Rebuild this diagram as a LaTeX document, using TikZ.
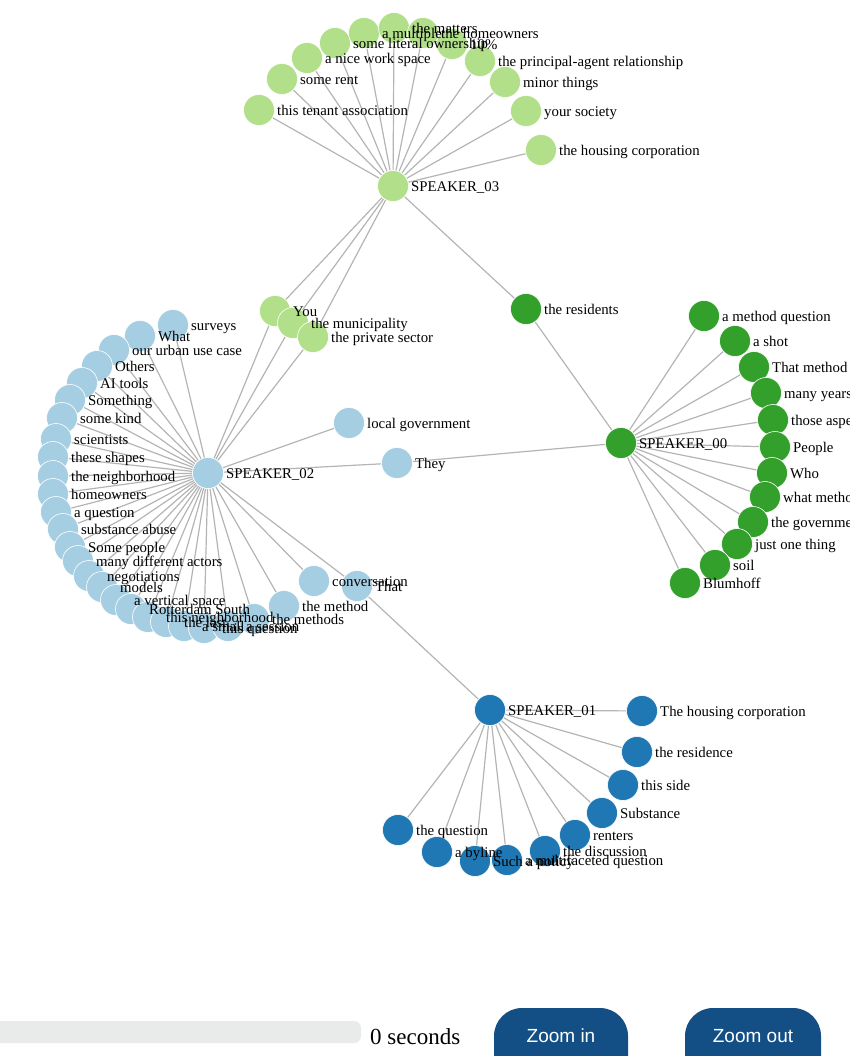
\documentclass[tikz,border=0pt]{standalone}
\usepackage{fontspec}
\setmainfont{Liberation Serif}
\newfontfamily\uifont{Liberation Sans}
\definecolor{lgreen}{HTML}{B2DF8A}
\definecolor{dgreen}{HTML}{33A02C}
\definecolor{lblue}{HTML}{A6CEE3}
\definecolor{dblue}{HTML}{1F78B4}
\definecolor{linkgray}{HTML}{B4B4B4}
\definecolor{btnblue}{HTML}{134F85}
\definecolor{barfill}{HTML}{E9EAEA}
\pgfdeclarelayer{edges}
\pgfdeclarelayer{texts}
\pgfsetlayers{edges,main,texts}
\tikzset{
  entity/.style={
    shape = circle,
    inner sep = 0pt,
    minimum size = 31pt,
    draw = white,
    line width = 0.6pt
  },
  link/.style={
    draw = linkgray,
    line width = 1.2pt
  },
  tag/.style={
    anchor = base west,
    inner sep = 0pt,
    font = \fontsize{14.8}{16}\selectfont
  },
  every picture/.style = {
    x = 1pt,
    y = -1pt
  }
}

\begin{document}
\begin{tikzpicture}
            \useasboundingbox (0,0) rectangle (850,1056);
            % speakers
            \node[entity, fill=lgreen] (s3) at (393,186) {};
            \node[entity, fill=lblue] (s2) at (208,473) {};
            \node[entity, fill=dgreen] (s0) at (621,443) {};
            \node[entity, fill=dblue] (s1) at (490,710) {};
            \begin{pgfonlayer}{texts}
                \node[tag] (s3-t) at (411,191.5) {SPEAKER\_03};
                \node[tag] (s2-t) at (226,478.5) {SPEAKER\_02};
                \node[tag] (s0-t) at (639,448.5) {SPEAKER\_00};
                \node[tag] (s1-t) at (508,715.5) {SPEAKER\_01};
            \end{pgfonlayer}
            % shared nodes
            \foreach \n/\x/\y/\c/\t in {y1/275/311/lgreen/You, y2/293/323/lgreen/the municipality, y3/313/337/lgreen/the private sector, r1/526/309/dgreen/the residents, they/397/463/lblue/They, that/357/586/lblue/That}{
                    \node[entity, fill=\c] (\n) at (\x,\y) {};
                    \begin{pgfonlayer}{texts}
                        \node[tag] (\n-t) at (\x+18,\y+5.5) {\t};
                    \end{pgfonlayer}
                }
            \begin{pgfonlayer}{edges}
                \foreach \n in {y1,y2,y3}{
                        \draw[link] (s3) -- (\n);
                        \draw[link] (s2) -- (\n);
                    }
                \draw[link] (s3) -- (r1) -- (s0);
                \draw[link] (s2) -- (they) -- (s0);
                \draw[link] (s2) -- (that) -- (s1);
            \end{pgfonlayer}
            % SPEAKER_03
            \foreach \n/\x/\y/\t in {g1/259/110/this tenant association, g2/282/79/some rent, g3/307/58/a nice work space, g4/335/43/some literal ownership, g5/364/33/a multiple, g6/394/28/the matters, g7/423/33/the homeowners, g8/452/44/10\%, g9/480/61/the principal-agent relationship, g10/505/82/minor things, g11/526/111/your society, g12/541/150/the housing corporation}{
                    \node[entity, fill=lgreen] (\n) at (\x,\y) {};
                    \begin{pgfonlayer}{texts}
                        \node[tag] (\n-t) at (\x+18,\y+5.5) {\t};
                    \end{pgfonlayer}
                    \begin{pgfonlayer}{edges}
                        \draw[link] (s3) -- (\n);
                    \end{pgfonlayer}
                }
            % SPEAKER_02
            \foreach \n/\x/\y/\t in {b1/173/325/surveys, b2/140/336/What, b3/114/350/our urban use case, b4/97/366/Others, b5/82/383/AI tools, b6/70/400/Something, b7/62/418/some kind, b8/56/439/scientists, b9/53/457/these shapes, b10/53/476/the neighborhood, b11/53/494/homeowners, b12/56/512/a question, b13/63/529/substance abuse, b14/70/547/Some people, b15/78/561/many different actors, b16/89/576/negotiations, b17/102/587/models, b18/116/600/a vertical space, b19/131/609/Rotterdam South, b20/148/617/this neighborhood, b21/166/622/the last, b22/184/626/a small, b23/204/628/this question, b28/228/626/a session, b24/254/619/the methods, b25/284/606/the method, b26/314/581/conversation, b27/349/423/local government}{
                    \node[entity, fill=lblue] (\n) at (\x,\y) {};
                    \begin{pgfonlayer}{texts}
                        \node[tag] (\n-t) at (\x+18,\y+5.5) {\t};
                    \end{pgfonlayer}
                    \begin{pgfonlayer}{edges}
                        \draw[link] (s2) -- (\n);
                    \end{pgfonlayer}
                }
            % SPEAKER_00
            \foreach \n/\x/\y/\t in {d1/704/316/a method question, d2/735/341/a shot, d3/754/367/That method, d4/766/393/many years, d5/773/420/those aspects, d6/775/447/People, d7/772/473/Who, d8/765/497/what method, d9/753/522/the government, d10/737/544/just one thing, d11/715/565/soil, d12/685/583/Blumhoff}{
                    \node[entity, fill=dgreen] (\n) at (\x,\y) {};
                    \begin{pgfonlayer}{texts}
                        \node[tag] (\n-t) at (\x+18,\y+5.5) {\t};
                    \end{pgfonlayer}
                    \begin{pgfonlayer}{edges}
                        \draw[link] (s0) -- (\n);
                    \end{pgfonlayer}
                }
            % SPEAKER_01
            \foreach \n/\x/\y/\t in {u1/642/711/The housing corporation, u2/637/752/the residence, u3/623/785/this side, u4/602/813/Substance, u5/575/835/renters, u6/545/851/the discussion, u7/507/860/a multifaceted question, u8/475/861/Such a policy, u9/437/852/a byline, u10/398/830/the question}{
                    \node[entity, fill=dblue] (\n) at (\x,\y) {};
                    \begin{pgfonlayer}{texts}
                        \node[tag] (\n-t) at (\x+18,\y+5.5) {\t};
                    \end{pgfonlayer}
                    \begin{pgfonlayer}{edges}
                        \draw[link] (s1) -- (\n);
                    \end{pgfonlayer}
                }
            % controls
            \fill[barfill, rounded corners=7pt] (-20,1021) rectangle (361,1043);
            \node[anchor=base west, inner sep=0pt, font=\fontsize{23}{25}\selectfont] (timer) at (370,1044) {0 seconds};
            \fill[btnblue, rounded corners=28pt] (494,1008) rectangle (628,1090);
            \fill[btnblue, rounded corners=28pt] (685,1008) rectangle (821,1090);
            \node[text=white, inner sep=0pt, font=\uifont\fontsize{19}{21}\selectfont] (zoomin) at (561,1036) {Zoom in};
            \node[text=white, inner sep=0pt, font=\uifont\fontsize{19}{21}\selectfont] (zoomout) at (753,1036) {Zoom out};
        \end{tikzpicture}
\end{document}
